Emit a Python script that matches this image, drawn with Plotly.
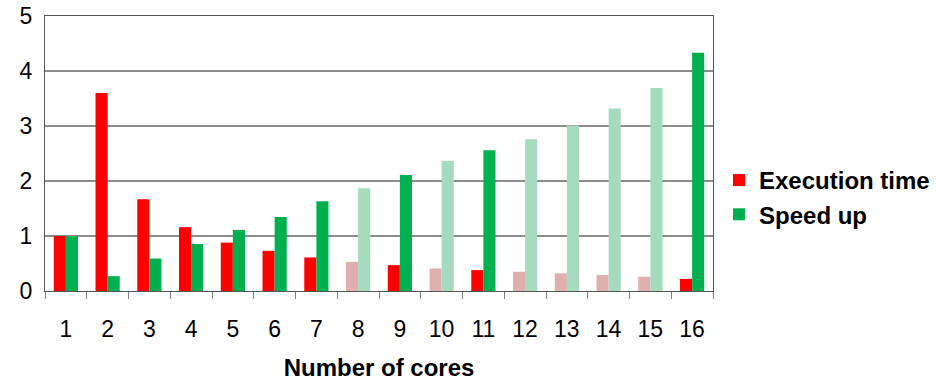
import plotly.graph_objects as go

cores = [str(i) for i in range(1, 17)]
execution_time = [1.0, 3.6, 1.67, 1.16, 0.88, 0.73, 0.61, 0.53, 0.47, 0.41, 0.38, 0.35, 0.32, 0.29, 0.26, 0.22]
speed_up = [1.0, 0.27, 0.59, 0.855, 1.11, 1.345, 1.63, 1.87, 2.11, 2.37, 2.56, 2.76, 3.01, 3.32, 3.69, 4.33]
y_ticks = [0, 1, 2, 3, 4, 5]

# categories drawn in a faded style
faded_cores = ["8", "10", "12", "13", "14", "15"]

RED, RED_FADED = "#FF0000", "#DFAFAF"
GREEN, GREEN_FADED = "#00B050", "#A6DABF"

red_colors = [RED_FADED if c in faded_cores else RED for c in cores]
green_colors = [GREEN_FADED if c in faded_cores else GREEN for c in cores]

fig = go.Figure()
fig.add_trace(go.Bar(x=cores, y=execution_time, name="Execution time",
                     marker=dict(color=red_colors, line=dict(width=0))))
fig.add_trace(go.Bar(x=cores, y=speed_up, name="Speed up",
                     marker=dict(color=green_colors, line=dict(width=0))))

FONT = "Liberation Sans, Arial, sans-serif"
fig.update_layout(
    width=936, height=381,
    margin=dict(l=45, r=223, t=16, b=90, autoexpand=False),
    paper_bgcolor="white", plot_bgcolor="white",
    barmode="group", bargap=0.42, bargroupgap=0,
    font=dict(family=FONT, color="black"),
    showlegend=True,
    legend=dict(x=1.009, xanchor="left", y=0.34, yanchor="middle",
                font=dict(size=24, family=FONT, weight="bold"),
                itemsizing="constant", tracegroupgap=4, bgcolor="rgba(0,0,0,0)",
                itemwidth=30),
    xaxis=dict(type="category", tickson="boundaries", ticks="outside", ticklen=7,
               tickcolor="#808080", tickwidth=1, automargin=False,
               showline=True, linecolor="#555555", linewidth=1, mirror=True,
               tickfont=dict(size=23), ticklabelstandoff=17,
               title=dict(text="<b>Number of cores</b>", font=dict(size=24), standoff=25),
               showgrid=False, fixedrange=True),
    yaxis=dict(range=[0, 5], tickvals=y_ticks, ticks="", showline=True, automargin=False,
               linecolor="#555555", linewidth=1, mirror=True,
               showgrid=True, gridcolor="#8C8C8C", gridwidth=1.5,
               zeroline=False, tickfont=dict(size=23), ticklabelstandoff=7),
)

fig.write_html("out.html", config={"displayModeBar": False},
               post_script="document.body.style.margin='0';document.body.style.overflow='hidden';")
